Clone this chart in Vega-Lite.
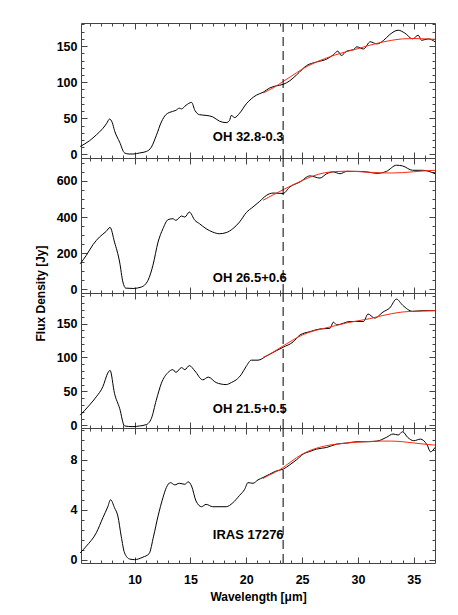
{
  "$schema": "https://vega.github.io/schema/vega-lite/v6.json",
  "background": "white",
  "padding": {"left": 34, "top": 18, "right": 5, "bottom": 5},
  "spacing": 0,
  "bounds": "flush",
  "config": {
    "view": {"stroke": null},
    "axis": {"grid": false, "labelFont": "Liberation Sans", "labelFontWeight": "bold", "labelFontSize": 12.5, "labelColor": "black", "titleFont": "Liberation Sans", "titleFontWeight": "bold", "titleFontSize": 12, "titleColor": "black", "domainColor": "#444", "tickColor": "#444", "labelOverlap": false, "labelFlush": false}
  },
  "datasets": {
    "obs": [
      {"p":1,"wl":5.13,"f":11},{"p":1,"wl":5.97,"f":19},{"p":1,"wl":6.57,"f":27},{"p":1,"wl":7.16,"f":36},{"p":1,"wl":7.5,"f":43},{"p":1,"wl":7.76,"f":49},{"p":1,"wl":8.0,"f":44},{"p":1,"wl":8.2,"f":33},{"p":1,"wl":8.66,"f":17},{"p":1,"wl":9.1,"f":2},{"p":1,"wl":9.5,"f":0.5},{"p":1,"wl":9.85,"f":0.5},{"p":1,"wl":10.45,"f":2},{"p":1,"wl":11.05,"f":4},{"p":1,"wl":11.5,"f":10},{"p":1,"wl":11.94,"f":26},{"p":1,"wl":12.4,"f":45},{"p":1,"wl":12.8,"f":55},{"p":1,"wl":13.1,"f":58},{"p":1,"wl":13.7,"f":61},{"p":1,"wl":14.0,"f":64},{"p":1,"wl":14.2,"f":63},{"p":1,"wl":14.6,"f":68},{"p":1,"wl":15.1,"f":72},{"p":1,"wl":15.4,"f":61},{"p":1,"wl":15.8,"f":55},{"p":1,"wl":16.4,"f":54},{"p":1,"wl":17.0,"f":52},{"p":1,"wl":17.6,"f":46},{"p":1,"wl":18.2,"f":44},{"p":1,"wl":18.5,"f":47},{"p":1,"wl":18.66,"f":54},{"p":1,"wl":18.96,"f":51},{"p":1,"wl":19.4,"f":57},{"p":1,"wl":20.0,"f":70},{"p":1,"wl":20.45,"f":77},{"p":1,"wl":20.9,"f":82},{"p":1,"wl":21.5,"f":86},{"p":1,"wl":22.1,"f":92},{"p":1,"wl":22.7,"f":95},{"p":1,"wl":23.3,"f":97},{"p":1,"wl":23.9,"f":102},{"p":1,"wl":24.5,"f":110},{"p":1,"wl":25.4,"f":123},{"p":1,"wl":26.3,"f":128},{"p":1,"wl":27.2,"f":132},{"p":1,"wl":27.8,"f":138},{"p":1,"wl":28.2,"f":143},{"p":1,"wl":28.5,"f":137},{"p":1,"wl":29.0,"f":143},{"p":1,"wl":29.6,"f":145},{"p":1,"wl":29.9,"f":149},{"p":1,"wl":30.5,"f":146},{"p":1,"wl":31.1,"f":156},{"p":1,"wl":31.7,"f":153},{"p":1,"wl":32.3,"f":158},{"p":1,"wl":32.85,"f":166},{"p":1,"wl":33.6,"f":172},{"p":1,"wl":34.2,"f":168},{"p":1,"wl":34.9,"f":160},{"p":1,"wl":35.4,"f":165},{"p":1,"wl":35.7,"f":158},{"p":1,"wl":36.3,"f":160},{"p":1,"wl":36.9,"f":156},

      {"p":2,"wl":5.13,"f":142},{"p":2,"wl":5.67,"f":188},{"p":2,"wl":6.27,"f":247},{"p":2,"wl":6.86,"f":290},{"p":2,"wl":7.46,"f":321},{"p":2,"wl":7.8,"f":343},{"p":2,"wl":8.2,"f":262},{"p":2,"wl":8.66,"f":151},{"p":2,"wl":8.95,"f":41},{"p":2,"wl":9.2,"f":7},{"p":2,"wl":9.85,"f":5},{"p":2,"wl":10.6,"f":13},{"p":2,"wl":11.2,"f":50},{"p":2,"wl":11.64,"f":133},{"p":2,"wl":12.1,"f":262},{"p":2,"wl":12.54,"f":336},{"p":2,"wl":13.0,"f":386},{"p":2,"wl":13.43,"f":391},{"p":2,"wl":13.7,"f":382},{"p":2,"wl":14.2,"f":406},{"p":2,"wl":14.5,"f":400},{"p":2,"wl":14.9,"f":428},{"p":2,"wl":15.4,"f":382},{"p":2,"wl":15.8,"f":364},{"p":2,"wl":16.4,"f":336},{"p":2,"wl":17.0,"f":317},{"p":2,"wl":17.6,"f":308},{"p":2,"wl":18.2,"f":314},{"p":2,"wl":18.8,"f":336},{"p":2,"wl":19.4,"f":373},{"p":2,"wl":20.0,"f":425},{"p":2,"wl":20.6,"f":456},{"p":2,"wl":21.2,"f":487},{"p":2,"wl":21.8,"f":520},{"p":2,"wl":22.4,"f":533},{"p":2,"wl":23.3,"f":531},{"p":2,"wl":23.9,"f":567},{"p":2,"wl":24.8,"f":594},{"p":2,"wl":25.7,"f":628},{"p":2,"wl":26.6,"f":616},{"p":2,"wl":27.2,"f":640},{"p":2,"wl":27.8,"f":650},{"p":2,"wl":28.4,"f":640},{"p":2,"wl":29.0,"f":653},{"p":2,"wl":29.9,"f":653},{"p":2,"wl":30.8,"f":650},{"p":2,"wl":31.7,"f":642},{"p":2,"wl":32.55,"f":653},{"p":2,"wl":33.45,"f":687},{"p":2,"wl":34.0,"f":683},{"p":2,"wl":34.9,"f":659},{"p":2,"wl":35.8,"f":659},{"p":2,"wl":36.9,"f":640},

      {"p":3,"wl":5.13,"f":15},{"p":3,"wl":5.97,"f":30},{"p":3,"wl":6.57,"f":42},{"p":3,"wl":7.16,"f":57},{"p":3,"wl":7.6,"f":77},{"p":3,"wl":7.8,"f":81},{"p":3,"wl":8.2,"f":47},{"p":3,"wl":8.66,"f":25},{"p":3,"wl":9.1,"f":-1},{"p":3,"wl":9.85,"f":-2},{"p":3,"wl":10.45,"f":-1},{"p":3,"wl":11.05,"f":1},{"p":3,"wl":11.5,"f":10},{"p":3,"wl":11.94,"f":37},{"p":3,"wl":12.4,"f":62},{"p":3,"wl":13.0,"f":78},{"p":3,"wl":13.43,"f":82},{"p":3,"wl":13.7,"f":78},{"p":3,"wl":14.2,"f":85},{"p":3,"wl":14.5,"f":82},{"p":3,"wl":14.9,"f":88},{"p":3,"wl":15.4,"f":80},{"p":3,"wl":16.1,"f":67},{"p":3,"wl":16.6,"f":71},{"p":3,"wl":17.3,"f":63},{"p":3,"wl":18.2,"f":60},{"p":3,"wl":18.66,"f":63},{"p":3,"wl":19.1,"f":67},{"p":3,"wl":19.56,"f":75},{"p":3,"wl":20.0,"f":87},{"p":3,"wl":20.45,"f":96},{"p":3,"wl":21.05,"f":96},{"p":3,"wl":21.8,"f":102},{"p":3,"wl":22.7,"f":110},{"p":3,"wl":23.3,"f":115},{"p":3,"wl":24.2,"f":123},{"p":3,"wl":24.8,"f":133},{"p":3,"wl":25.7,"f":138},{"p":3,"wl":26.6,"f":142},{"p":3,"wl":27.5,"f":143},{"p":3,"wl":27.8,"f":152},{"p":3,"wl":28.1,"f":148},{"p":3,"wl":29.3,"f":153},{"p":3,"wl":30.5,"f":153},{"p":3,"wl":30.9,"f":164},{"p":3,"wl":31.5,"f":158},{"p":3,"wl":32.25,"f":167},{"p":3,"wl":32.85,"f":173},{"p":3,"wl":33.45,"f":186},{"p":3,"wl":34.0,"f":177},{"p":3,"wl":34.9,"f":168},{"p":3,"wl":35.8,"f":169},{"p":3,"wl":36.9,"f":169},

      {"p":4,"wl":5.13,"f":0.54},{"p":4,"wl":5.67,"f":1.07},{"p":4,"wl":6.57,"f":2.15},{"p":4,"wl":7.16,"f":3.36},{"p":4,"wl":7.6,"f":4.24},{"p":4,"wl":7.85,"f":4.8},{"p":4,"wl":8.2,"f":4.16},{"p":4,"wl":8.5,"f":3.49},{"p":4,"wl":8.8,"f":1.88},{"p":4,"wl":9.1,"f":0.54},{"p":4,"wl":9.55,"f":0.05},{"p":4,"wl":10.0,"f":0.0},{"p":4,"wl":10.75,"f":0.2},{"p":4,"wl":11.3,"f":0.48},{"p":4,"wl":11.7,"f":1.88},{"p":4,"wl":12.1,"f":3.49},{"p":4,"wl":12.54,"f":4.97},{"p":4,"wl":12.84,"f":5.77},{"p":4,"wl":13.2,"f":6.17},{"p":4,"wl":13.6,"f":5.99},{"p":4,"wl":14.0,"f":6.12},{"p":4,"wl":14.5,"f":6.04},{"p":4,"wl":14.8,"f":6.23},{"p":4,"wl":15.1,"f":5.9},{"p":4,"wl":15.5,"f":4.7},{"p":4,"wl":16.0,"f":4.24},{"p":4,"wl":16.4,"f":4.43},{"p":4,"wl":17.0,"f":4.24},{"p":4,"wl":18.2,"f":4.24},{"p":4,"wl":18.8,"f":4.56},{"p":4,"wl":19.4,"f":5.15},{"p":4,"wl":19.86,"f":5.64},{"p":4,"wl":20.15,"f":6.17},{"p":4,"wl":20.6,"f":6.12},{"p":4,"wl":21.05,"f":6.39},{"p":4,"wl":21.5,"f":6.58},{"p":4,"wl":22.1,"f":6.85},{"p":4,"wl":22.7,"f":7.11},{"p":4,"wl":23.3,"f":7.25},{"p":4,"wl":23.9,"f":7.6},{"p":4,"wl":24.5,"f":8.0},{"p":4,"wl":25.1,"f":8.46},{"p":4,"wl":25.7,"f":8.67},{"p":4,"wl":26.3,"f":8.86},{"p":4,"wl":27.2,"f":8.99},{"p":4,"wl":28.1,"f":9.26},{"p":4,"wl":29.0,"f":9.34},{"p":4,"wl":29.9,"f":9.45},{"p":4,"wl":30.8,"f":9.45},{"p":4,"wl":31.7,"f":9.5},{"p":4,"wl":32.55,"f":9.8},{"p":4,"wl":33.15,"f":10.07},{"p":4,"wl":33.6,"f":9.99},{"p":4,"wl":34.0,"f":10.25},{"p":4,"wl":34.45,"f":9.8},{"p":4,"wl":35.0,"f":9.53},{"p":4,"wl":35.6,"f":9.66},{"p":4,"wl":36.2,"f":9.18},{"p":4,"wl":36.5,"f":8.64},{"p":4,"wl":36.9,"f":8.99}
    ],
    "fit": [
      {"p":1,"wl":21.5,"f":85},{"p":1,"wl":22.5,"f":93},{"p":1,"wl":23.3,"f":101},{"p":1,"wl":24,"f":108},{"p":1,"wl":25,"f":118},{"p":1,"wl":26,"f":126},{"p":1,"wl":27,"f":132.5},{"p":1,"wl":28,"f":138},{"p":1,"wl":29,"f":142.5},{"p":1,"wl":30,"f":146.5},{"p":1,"wl":31,"f":151},{"p":1,"wl":32,"f":155},{"p":1,"wl":33,"f":158},{"p":1,"wl":34,"f":160},{"p":1,"wl":35,"f":160.5},{"p":1,"wl":36,"f":160},{"p":1,"wl":36.9,"f":159.5},
      {"p":2,"wl":21.5,"f":493},{"p":2,"wl":22,"f":510},{"p":2,"wl":23,"f":542},{"p":2,"wl":24,"f":573},{"p":2,"wl":25,"f":602},{"p":2,"wl":26,"f":628},{"p":2,"wl":27,"f":645},{"p":2,"wl":28,"f":652},{"p":2,"wl":29,"f":654},{"p":2,"wl":30,"f":652},{"p":2,"wl":31,"f":648},{"p":2,"wl":32,"f":645},{"p":2,"wl":33,"f":644},{"p":2,"wl":34,"f":646},{"p":2,"wl":35,"f":651},{"p":2,"wl":36,"f":656},{"p":2,"wl":36.9,"f":659},
      {"p":3,"wl":21.5,"f":100},{"p":3,"wl":22,"f":104},{"p":3,"wl":23,"f":114},{"p":3,"wl":24,"f":124},{"p":3,"wl":25,"f":133},{"p":3,"wl":26,"f":139},{"p":3,"wl":27,"f":143},{"p":3,"wl":28,"f":147},{"p":3,"wl":29,"f":151},{"p":3,"wl":30,"f":154},{"p":3,"wl":31,"f":157},{"p":3,"wl":32,"f":161},{"p":3,"wl":33,"f":164.5},{"p":3,"wl":34,"f":167},{"p":3,"wl":35,"f":168},{"p":3,"wl":36,"f":168.5},{"p":3,"wl":36.9,"f":169},
      {"p":4,"wl":21.5,"f":6.5},{"p":4,"wl":22,"f":6.75},{"p":4,"wl":23,"f":7.2},{"p":4,"wl":24,"f":7.85},{"p":4,"wl":25,"f":8.45},{"p":4,"wl":26,"f":8.85},{"p":4,"wl":27,"f":9.1},{"p":4,"wl":28,"f":9.25},{"p":4,"wl":29,"f":9.35},{"p":4,"wl":30,"f":9.42},{"p":4,"wl":31,"f":9.47},{"p":4,"wl":32,"f":9.5},{"p":4,"wl":33,"f":9.5},{"p":4,"wl":34,"f":9.45},{"p":4,"wl":35,"f":9.35},{"p":4,"wl":36,"f":9.25},{"p":4,"wl":36.9,"f":9.18}
    ],
    "labels": [
      {"p":1,"wl":17.0,"f":24,"t":"OH 32.8-0.3"},
      {"p":2,"wl":17.0,"f":62,"t":"OH 26.5+0.6"},
      {"p":3,"wl":17.0,"f":24,"t":"OH 21.5+0.5"},
      {"p":4,"wl":17.0,"f":2.0,"t":"IRAS 17276"}
    ],
    "dash": [{"wl":23.3}]
  },
  "vconcat": [
    {
      "width": 354, "height": 135,
      "layer": [
        {"data": {"name": "obs"}, "transform": [{"filter": "datum.p == 1"}],
         "mark": {"type": "line", "color": "black", "strokeWidth": 1, "interpolate": "monotone"},
         "encoding": {
           "x": {"field": "wl", "type": "quantitative", "scale": {"domain": [5.2, 36.9], "nice": false, "zero": false},
                 "axis": {"orient": "bottom", "values": [6,7,8,9,10,11,12,13,14,15,16,17,18,19,20,21,22,23,24,25,26,27,28,29,30,31,32,33,34,35,36], "tickSize": {"condition": {"test": "datum.value % 5 === 0", "value": -6}, "value": -3}, "labels": false, "title": null}},
           "y": {"field": "f", "type": "quantitative", "scale": {"domain": [-5, 182], "nice": false, "zero": false},
                 "axis": {"orient": "left", "values": [0,10,20,30,40,50,60,70,80,90,100,110,120,130,140,150,160,170,180], "tickSize": {"condition": {"test": "datum.value % 50 === 0", "value": -6}, "value": -3}, "labelExpr": "datum.value % 50 === 0 ? datum.label : ''", "labelPadding": 10, "title": null}}
         }},
        {"data": {"name": "fit"}, "transform": [{"filter": "datum.p == 1"}],
         "mark": {"type": "line", "color": "#ff2a10", "strokeWidth": 1, "interpolate": "monotone"},
         "encoding": {
           "x": {"field": "wl", "type": "quantitative", "scale": {"domain": [5.2, 36.9], "nice": false, "zero": false},
                 "axis": {"orient": "top", "values": [6,7,8,9,10,11,12,13,14,15,16,17,18,19,20,21,22,23,24,25,26,27,28,29,30,31,32,33,34,35,36], "tickSize": {"condition": {"test": "datum.value % 5 === 0", "value": -6}, "value": -3}, "labels": false, "title": null}},
           "y": {"field": "f", "type": "quantitative", "scale": {"domain": [-5, 182], "nice": false, "zero": false},
                 "axis": {"orient": "right", "values": [0,10,20,30,40,50,60,70,80,90,100,110,120,130,140,150,160,170,180], "tickSize": {"condition": {"test": "datum.value % 50 === 0", "value": -6}, "value": -3}, "labels": false, "title": null}}
         }},
        {"data": {"name": "dash"}, "mark": {"type": "rule", "color": "black", "strokeWidth": 1, "strokeDash": [9, 5]},
         "encoding": {"x": {"field": "wl", "type": "quantitative", "axis": null}}},
        {"data": {"name": "labels"}, "transform": [{"filter": "datum.p == 1"}],
         "mark": {"type": "text", "align": "left", "baseline": "middle", "font": "Liberation Sans", "fontWeight": "bold", "fontSize": 13, "color": "black"},
         "encoding": {"x": {"field": "wl", "type": "quantitative", "axis": null}, "y": {"field": "f", "type": "quantitative", "axis": null}, "text": {"field": "t"}}}
      ],
      "resolve": {"axis": {"x": "independent", "y": "independent"}}
    },
    {
      "width": 354, "height": 135,
      "layer": [
        {"data": {"name": "obs"}, "transform": [{"filter": "datum.p == 2"}],
         "mark": {"type": "line", "color": "black", "strokeWidth": 1, "interpolate": "monotone"},
         "encoding": {
           "x": {"field": "wl", "type": "quantitative", "scale": {"domain": [5.2, 36.9], "nice": false, "zero": false},
                 "axis": {"orient": "bottom", "values": [6,7,8,9,10,11,12,13,14,15,16,17,18,19,20,21,22,23,24,25,26,27,28,29,30,31,32,33,34,35,36], "tickSize": {"condition": {"test": "datum.value % 5 === 0", "value": -6}, "value": -3}, "labels": false, "title": null}},
           "y": {"field": "f", "type": "quantitative", "scale": {"domain": [-20, 727], "nice": false, "zero": false},
                 "axis": {"orient": "left", "values": [0,50,100,150,200,250,300,350,400,450,500,550,600,650,700], "tickSize": {"condition": {"test": "datum.value % 200 === 0", "value": -6}, "value": -3}, "labelExpr": "datum.value % 200 === 0 ? datum.label : ''", "labelPadding": 10, "title": "Flux Density [Jy]", "titleY": 135, "titleX": -34, "titleAngle": 270, "titleBaseline": "bottom", "titleAlign": "center"}}
         }},
        {"data": {"name": "fit"}, "transform": [{"filter": "datum.p == 2"}],
         "mark": {"type": "line", "color": "#ff2a10", "strokeWidth": 1, "interpolate": "monotone"},
         "encoding": {
           "x": {"field": "wl", "type": "quantitative", "scale": {"domain": [5.2, 36.9], "nice": false, "zero": false},
                 "axis": {"orient": "top", "values": [6,7,8,9,10,11,12,13,14,15,16,17,18,19,20,21,22,23,24,25,26,27,28,29,30,31,32,33,34,35,36], "tickSize": {"condition": {"test": "datum.value % 5 === 0", "value": -6}, "value": -3}, "labels": false, "title": null}},
           "y": {"field": "f", "type": "quantitative", "scale": {"domain": [-20, 727], "nice": false, "zero": false},
                 "axis": {"orient": "right", "values": [0,50,100,150,200,250,300,350,400,450,500,550,600,650,700], "tickSize": {"condition": {"test": "datum.value % 200 === 0", "value": -6}, "value": -3}, "labels": false, "title": null}}
         }},
        {"data": {"name": "dash"}, "mark": {"type": "rule", "color": "black", "strokeWidth": 1, "strokeDash": [9, 5]},
         "encoding": {"x": {"field": "wl", "type": "quantitative", "axis": null}}},
        {"data": {"name": "labels"}, "transform": [{"filter": "datum.p == 2"}],
         "mark": {"type": "text", "align": "left", "baseline": "middle", "font": "Liberation Sans", "fontWeight": "bold", "fontSize": 13, "color": "black"},
         "encoding": {"x": {"field": "wl", "type": "quantitative", "axis": null}, "y": {"field": "f", "type": "quantitative", "axis": null}, "text": {"field": "t"}}}
      ],
      "resolve": {"axis": {"x": "independent", "y": "independent"}}
    },
    {
      "width": 354, "height": 135,
      "layer": [
        {"data": {"name": "obs"}, "transform": [{"filter": "datum.p == 3"}],
         "mark": {"type": "line", "color": "black", "strokeWidth": 1, "interpolate": "monotone"},
         "encoding": {
           "x": {"field": "wl", "type": "quantitative", "scale": {"domain": [5.2, 36.9], "nice": false, "zero": false},
                 "axis": {"orient": "bottom", "values": [6,7,8,9,10,11,12,13,14,15,16,17,18,19,20,21,22,23,24,25,26,27,28,29,30,31,32,33,34,35,36], "tickSize": {"condition": {"test": "datum.value % 5 === 0", "value": -6}, "value": -3}, "labels": false, "title": null}},
           "y": {"field": "f", "type": "quantitative", "scale": {"domain": [-4, 195], "nice": false, "zero": false},
                 "axis": {"orient": "left", "values": [0,10,20,30,40,50,60,70,80,90,100,110,120,130,140,150,160,170,180,190], "tickSize": {"condition": {"test": "datum.value % 50 === 0", "value": -6}, "value": -3}, "labelExpr": "datum.value % 50 === 0 ? datum.label : ''", "labelPadding": 10, "title": null}}
         }},
        {"data": {"name": "fit"}, "transform": [{"filter": "datum.p == 3"}],
         "mark": {"type": "line", "color": "#ff2a10", "strokeWidth": 1, "interpolate": "monotone"},
         "encoding": {
           "x": {"field": "wl", "type": "quantitative", "scale": {"domain": [5.2, 36.9], "nice": false, "zero": false},
                 "axis": {"orient": "top", "values": [6,7,8,9,10,11,12,13,14,15,16,17,18,19,20,21,22,23,24,25,26,27,28,29,30,31,32,33,34,35,36], "tickSize": {"condition": {"test": "datum.value % 5 === 0", "value": -6}, "value": -3}, "labels": false, "title": null}},
           "y": {"field": "f", "type": "quantitative", "scale": {"domain": [-4, 195], "nice": false, "zero": false},
                 "axis": {"orient": "right", "values": [0,10,20,30,40,50,60,70,80,90,100,110,120,130,140,150,160,170,180,190], "tickSize": {"condition": {"test": "datum.value % 50 === 0", "value": -6}, "value": -3}, "labels": false, "title": null}}
         }},
        {"data": {"name": "dash"}, "mark": {"type": "rule", "color": "black", "strokeWidth": 1, "strokeDash": [9, 5]},
         "encoding": {"x": {"field": "wl", "type": "quantitative", "axis": null}}},
        {"data": {"name": "labels"}, "transform": [{"filter": "datum.p == 3"}],
         "mark": {"type": "text", "align": "left", "baseline": "middle", "font": "Liberation Sans", "fontWeight": "bold", "fontSize": 13, "color": "black"},
         "encoding": {"x": {"field": "wl", "type": "quantitative", "axis": null}, "y": {"field": "f", "type": "quantitative", "axis": null}, "text": {"field": "t"}}}
      ],
      "resolve": {"axis": {"x": "independent", "y": "independent"}}
    },
    {
      "width": 354, "height": 135,
      "layer": [
        {"data": {"name": "obs"}, "transform": [{"filter": "datum.p == 4"}],
         "mark": {"type": "line", "color": "black", "strokeWidth": 1, "interpolate": "monotone"},
         "encoding": {
           "x": {"field": "wl", "type": "quantitative", "scale": {"domain": [5.2, 36.9], "nice": false, "zero": false},
                 "axis": {"orient": "bottom", "values": [6,7,8,9,10,11,12,13,14,15,16,17,18,19,20,21,22,23,24,25,26,27,28,29,30,31,32,33,34,35,36], "tickSize": {"condition": {"test": "datum.value % 5 === 0", "value": -6}, "value": -3}, "labelExpr": "datum.value % 5 === 0 ? datum.label : ''", "labelPadding": 16, "title": "Wavelength [μm]", "titlePadding": 3}},
           "y": {"field": "f", "type": "quantitative", "scale": {"domain": [-0.27, 10.55], "nice": false, "zero": false},
                 "axis": {"orient": "left", "values": [0,0.8,1.6,2.4,3.2,4,4.8,5.6,6.4,7.2,8,8.8,9.6,10.4], "tickSize": {"condition": {"test": "datum.value % 4 === 0", "value": -6}, "value": -3}, "labelExpr": "datum.value % 4 === 0 ? datum.label : ''", "labelPadding": 10, "title": null}}
         }},
        {"data": {"name": "fit"}, "transform": [{"filter": "datum.p == 4"}],
         "mark": {"type": "line", "color": "#ff2a10", "strokeWidth": 1, "interpolate": "monotone"},
         "encoding": {
           "x": {"field": "wl", "type": "quantitative", "scale": {"domain": [5.2, 36.9], "nice": false, "zero": false},
                 "axis": {"orient": "top", "values": [6,7,8,9,10,11,12,13,14,15,16,17,18,19,20,21,22,23,24,25,26,27,28,29,30,31,32,33,34,35,36], "tickSize": {"condition": {"test": "datum.value % 5 === 0", "value": -6}, "value": -3}, "labels": false, "title": null}},
           "y": {"field": "f", "type": "quantitative", "scale": {"domain": [-0.27, 10.55], "nice": false, "zero": false},
                 "axis": {"orient": "right", "values": [0,0.8,1.6,2.4,3.2,4,4.8,5.6,6.4,7.2,8,8.8,9.6,10.4], "tickSize": {"condition": {"test": "datum.value % 4 === 0", "value": -6}, "value": -3}, "labels": false, "title": null}}
         }},
        {"data": {"name": "dash"}, "mark": {"type": "rule", "color": "black", "strokeWidth": 1, "strokeDash": [9, 5]},
         "encoding": {"x": {"field": "wl", "type": "quantitative", "axis": null}}},
        {"data": {"name": "labels"}, "transform": [{"filter": "datum.p == 4"}],
         "mark": {"type": "text", "align": "left", "baseline": "middle", "font": "Liberation Sans", "fontWeight": "bold", "fontSize": 13, "color": "black"},
         "encoding": {"x": {"field": "wl", "type": "quantitative", "axis": null}, "y": {"field": "f", "type": "quantitative", "axis": null}, "text": {"field": "t"}}}
      ],
      "resolve": {"axis": {"x": "independent", "y": "independent"}}
    }
  ]
}
